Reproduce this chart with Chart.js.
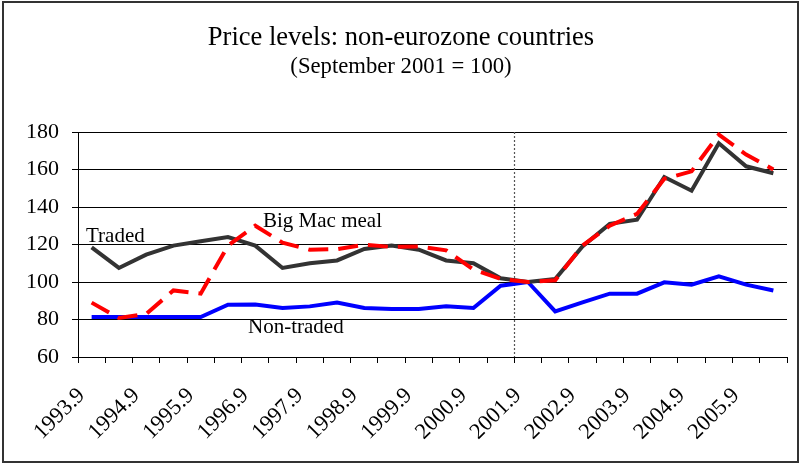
<!DOCTYPE html>
<html>
<head>
<meta charset="utf-8">
<script src="https://cdn.jsdelivr.net/npm/chart.js@4"></script>
<style>
  html, body { margin: 0; padding: 0; background: #fff; }
  #wrap { width: 800px; height: 464px; }
</style>
</head>
<body>
<div id="wrap"><canvas id="priceChart" width="800" height="464"></canvas></div>
<script>
// semiannual observations, September 1993 .. March 2006
const periods = [
    '1993.9','1994.3','1994.9','1995.3','1995.9','1996.3','1996.9','1997.3',
    '1997.9','1998.3','1998.9','1999.3','1999.9','2000.3','2000.9','2001.3',
    '2001.9','2002.3','2002.9','2003.3','2003.9','2004.3','2004.9','2005.3',
    '2005.9','2006.3'
];

const traded = [
    118.5, 107.5, 114.6, 119.4, 121.7, 124, 119.4, 107.5,
    110, 111.5, 117.6, 119.4, 117.2, 111.5, 110, 102,
    100, 101.6, 119, 131, 133.2, 156, 148.7, 174,
    161.7, 158
];

const bigMac = [
    89, 80.8, 83, 95.5, 93.8, 119.4, 130, 121,
    117.2, 117.5, 119.9, 118.7, 119, 116.9, 106.6, 101.6,
    100, 100.9, 119.4, 130, 136.3, 155, 159, 178.6,
    168, 160
];

const nonTraded = [
    81.3, 81.3, 81.3, 81.3, 81.3, 87.9, 88, 86.1,
    87, 89.1, 86.1, 85.6, 85.6, 87, 86.1, 98,
    100, 84.3, 89.1, 93.8, 93.8, 99.8, 98.6, 103,
    98.6, 95.5
];

const yTicks = [60, 80, 100, 120, 140, 160, 180];

const serif = '"Liberation Serif", "Times New Roman", serif';

// titles, frame, dotted base-date line, rotated x labels and series notes
const decorations = {
    id: 'decorations',

    beforeDatasetsDraw(chart) {
        const {ctx, chartArea} = chart;
        const x = chart.scales.x;
        const base = periods.indexOf('2001.9');
        const px = Math.round((x.getPixelForValue(base - 1) + x.getPixelForValue(base)) / 2) + 0.5;

        ctx.save();
        ctx.strokeStyle = '#555';
        ctx.lineWidth = 1.2;
        ctx.setLineDash([2, 2]);
        ctx.beginPath();
        ctx.moveTo(px, chartArea.top);
        ctx.lineTo(px, chartArea.bottom);
        ctx.stroke();
        ctx.restore();
    },

    afterDraw(chart) {
        const {ctx, chartArea} = chart;
        const x = chart.scales.x;

        ctx.save();

        // outer frame
        ctx.strokeStyle = '#333';
        ctx.lineWidth = 2;
        ctx.strokeRect(3, 2, 795, 460);

        ctx.fillStyle = '#000';
        ctx.textAlign = 'center';
        ctx.textBaseline = 'alphabetic';
        ctx.font = '26.5px ' + serif;
        ctx.fillText('Price levels: non-eurozone countries', 401, 45);
        ctx.font = '22.7px ' + serif;
        ctx.fillText('(September 2001 = 100)', 401, 73);

        // x labels, every September
        ctx.font = '22.5px ' + serif;
        ctx.textAlign = 'right';
        ctx.textBaseline = 'middle';
        periods.forEach((p, i) => {
            if (i % 2 !== 0) return;
            const cx = x.getPixelForValue(i);
            ctx.save();
            ctx.translate(cx - 10, chartArea.bottom + 35);
            ctx.rotate(-Math.PI / 4);
            ctx.fillText(p, 0, 0);
            ctx.restore();
        });

        // series notes
        ctx.font = '21px ' + serif;
        ctx.textAlign = 'left';
        ctx.textBaseline = 'alphabetic';
        ctx.fillText('Traded', 86, 242);
        ctx.fillText('Big Mac meal', 263, 227);
        ctx.fillText('Non-traded', 248, 333);

        ctx.restore();
    }
};

new Chart(document.getElementById('priceChart'), {
    type: 'line',

    data: {
        labels: periods,
        datasets: [
            {
                label: 'Big Mac meal',
                data: bigMac,
                borderColor: '#ff0000',
                borderWidth: 4,
                borderDash: [20, 10],
                pointRadius: 0,
                tension: 0,
                order: 0
            },
            {
                label: 'Traded',
                data: traded,
                borderColor: '#333333',
                borderWidth: 4,
                pointRadius: 0,
                tension: 0,
                order: 1
            },
            {
                label: 'Non-traded',
                data: nonTraded,
                borderColor: '#0000ff',
                borderWidth: 4,
                pointRadius: 0,
                tension: 0,
                order: 2
            }
        ]
    },

    options: {
        responsive: false,
        animation: false,
        events: [],

        layout: {
            padding: {top: 132, right: 13, bottom: 0, left: 0}
        },

        plugins: {
            legend: {display: false},
            title: {display: false},
            tooltip: {enabled: false}
        },

        scales: {

            x: {
                type: 'category',
                offset: true,
                afterFit(scale) { scale.height = 107; },
                ticks: {display: false},
                grid: {
                    offset: true,
                    drawOnChartArea: false,
                    drawTicks: true,
                    tickLength: 6,
                    color: '#000'
                },
                border: {display: true, color: '#000', width: 1}
            },

            y: {
                min: 60,
                max: 180,
                afterFit(scale) { scale.width = 78; },
                afterBuildTicks(scale) {
                    scale.ticks = yTicks.map(v => ({value: v}));
                },
                ticks: {
                    color: '#000',
                    padding: 13,
                    font: {family: serif, size: 22}
                },
                grid: {
                    color: '#000',
                    lineWidth: 1,
                    tickLength: 6
                },
                border: {display: true, color: '#000', width: 1}
            }

        }

    },

    plugins: [decorations]
});
</script>
</body>
</html>
